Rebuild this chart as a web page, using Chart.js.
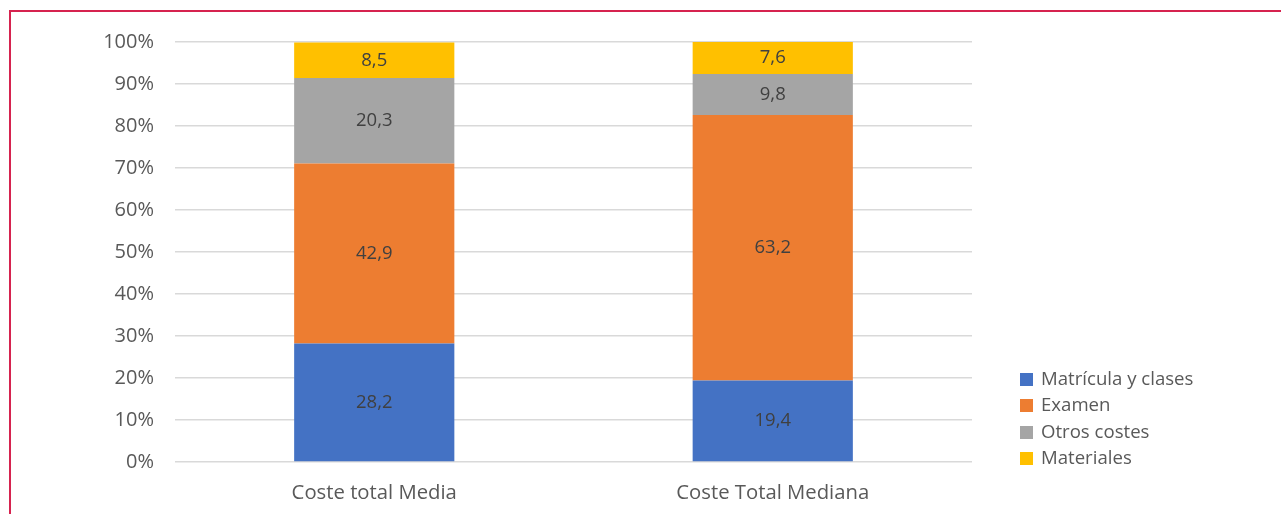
<!DOCTYPE html>
<html>
<head>
<meta charset="utf-8">
<script src="https://cdn.jsdelivr.net/npm/chart.js@4"></script>
<style>
  html, body { margin: 0; padding: 0; background: #fff; }
  #wrap { position: relative; width: 1281px; height: 514px; overflow: hidden; }
  #frame { position: absolute; left: 9px; top: 10px; width: 1300px; height: 600px; border: 2px solid #d6234f; box-sizing: border-box; pointer-events: none; }
  canvas { position: absolute; left: 0; top: 0; }
  #legend { position: absolute; left: 1020px; top: 365px; font-family: "Open Sans", sans-serif; font-size: 18.6px; color: #595959; }
  #legend .item { height: 26.3px; line-height: 26px; white-space: nowrap; }
  #legend .sw { display: inline-block; width: 13px; height: 13px; margin-right: 8px; vertical-align: -1px; }
</style>
</head>
<body>
<div id="wrap">
  <canvas id="c" width="1281" height="514"></canvas>
  <div id="legend"></div>
  <div id="frame"></div>
</div>
<script>
const categories = ["Coste total Media", "Coste Total Mediana"];
const seriesNames = ["Matrícula y clases", "Examen", "Otros costes", "Materiales"];
const matricula = [28.2, 19.4];
const examen = [42.9, 63.2];
const otros = [20.3, 9.8];
const materiales = [8.5, 7.6];
const yTicks = [0, 10, 20, 30, 40, 50, 60, 70, 80, 90, 100];
const colors = ["#4472C4", "#ED7D31", "#A5A5A5", "#FFC000"];

const seriesValues = [matricula, examen, otros, materiales];
const FONT = '"Open Sans", sans-serif';

const labelPlugin = {
  id: 'segLabels',
  afterDatasetsDraw(chart) {
    const ctx = chart.ctx;
    ctx.save();
    ctx.font = '18.5px ' + FONT;
    ctx.fillStyle = '#404040';
    ctx.textAlign = 'center';
    ctx.textBaseline = 'middle';
    chart.data.datasets.forEach((ds, di) => {
      const meta = chart.getDatasetMeta(di);
      meta.data.forEach((bar, i) => {
        const v = ds.data[i];
        const yMid = (bar.y + bar.base) / 2;
        ctx.fillText(String(v).replace('.', ','), bar.x, yMid);
      });
    });
    ctx.restore();
  }
};

new Chart(document.getElementById('c'), {
  type: 'bar',
  data: {
    labels: categories,
    datasets: seriesNames.map((n, i) => ({
      label: n,
      data: seriesValues[i],
      backgroundColor: colors[i],
      borderWidth: 0,
      categoryPercentage: 1,
      barPercentage: 0.402
    }))
  },
  options: {
    responsive: false,
    animation: false,
    events: [],
    layout: { padding: { top: 42, right: 309, left: 0, bottom: 0 } },
    plugins: { legend: { display: false }, tooltip: { enabled: false } },
    scales: {
      x: {
        stacked: true,
        grid: { display: false },
        border: { display: false },
        ticks: { color: '#595959', font: { family: FONT, size: 20.3 }, padding: 11 },
        afterFit(s) { s.height = 52; }
      },
      y: {
        stacked: true,
        min: 0,
        max: 100,
        afterBuildTicks(s) { s.ticks = yTicks.map(v => ({ value: v })); },
        grid: { color: '#d9d9d9', lineWidth: 1.4, drawTicks: false },
        border: { display: false },
        ticks: { color: '#595959', font: { family: FONT, size: 20 }, padding: 21, callback: v => v + '%' },
        afterFit(s) { s.width = 175; }
      }
    }
  },
  plugins: [labelPlugin]
});

const lg = document.getElementById('legend');
seriesNames.forEach((n, i) => {
  const d = document.createElement('div');
  d.className = 'item';
  d.innerHTML = '<span class="sw" style="background:' + colors[i] + '"></span>' + n;
  lg.appendChild(d);
});
</script>
</body>
</html>
